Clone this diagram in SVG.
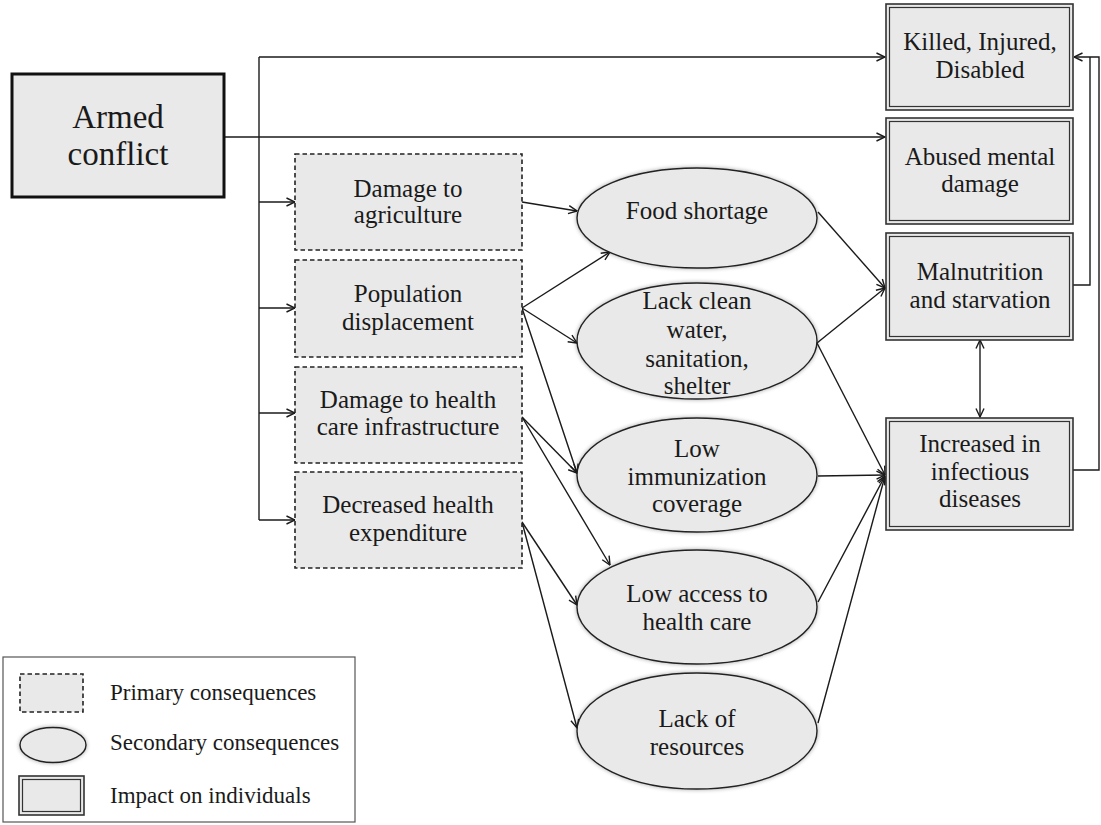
<svg xmlns="http://www.w3.org/2000/svg" width="1101" height="825" viewBox="0 0 1101 825" font-family="'Liberation Serif', serif">
<style>
text{font-family:'Liberation Serif','Times New Roman',serif;fill:#1a1a1a;text-anchor:middle}
.t{font-size:25px}
.big{font-size:33px}
.lg{font-size:23px;text-anchor:start}
.prim{fill:#e9e9e9;stroke:#222;stroke-width:1.6;stroke-dasharray:4.5 3}
.sec{fill:#e9e9e9;stroke:#222;stroke-width:1.4}
.imp-o{fill:#e9e9e9;stroke:#333;stroke-width:1.6}
.imp-i{fill:none;stroke:#333;stroke-width:1.2}
.con{fill:none;stroke:#1a1a1a;stroke-width:1.4}
</style>
<defs>
<marker id="arr" viewBox="0 0 10 10" refX="9.5" refY="5" markerWidth="10" markerHeight="10" markerUnits="userSpaceOnUse" orient="auto-start-reverse">
<path d="M1,1 L9.5,5 L1,9" fill="none" stroke="#1a1a1a" stroke-width="1.4"/>
</marker>
<filter id="glow" x="-10%" y="-15%" width="120%" height="130%">
<feGaussianBlur in="SourceAlpha" stdDeviation="2.2"/>
<feComponentTransfer><feFuncA type="linear" slope="0.35"/></feComponentTransfer>
<feMerge><feMergeNode/><feMergeNode in="SourceGraphic"/></feMerge>
</filter>
</defs>

<g id="connectors" class="con">
<path d="M224,137 H885" marker-end="url(#arr)"/>
<path d="M259,57 V520"/>
<path d="M259,57 H885" marker-end="url(#arr)"/>
<path d="M259,202 H295" marker-end="url(#arr)"/>
<path d="M259,308 H295" marker-end="url(#arr)"/>
<path d="M259,413 H295" marker-end="url(#arr)"/>
<path d="M259,520 H295" marker-end="url(#arr)"/>
<path d="M522,202 L577,211" marker-end="url(#arr)"/>
<path d="M522,308 L610,252" marker-end="url(#arr)"/>
<path d="M522,308 L577,343" marker-end="url(#arr)"/>
<path d="M522,308 L577,473" marker-end="url(#arr)"/>
<path d="M522,417 L577,473" marker-end="url(#arr)"/>
<path d="M522,417 L610,565" marker-end="url(#arr)"/>
<path d="M522,522 L577,605" marker-end="url(#arr)"/>
<path d="M522,522 L577,728" marker-end="url(#arr)"/>
<path d="M818,212 L885,288" marker-end="url(#arr)"/>
<path d="M817,343 L885,288" marker-end="url(#arr)"/>
<path d="M817,343 L885,475" marker-end="url(#arr)"/>
<path d="M818,476 L885,475" marker-end="url(#arr)"/>
<path d="M818,602 L885,476" marker-end="url(#arr)"/>
<path d="M818,723 L885,476" marker-end="url(#arr)"/>
<path d="M980,340 V417" marker-start="url(#arr)" marker-end="url(#arr)"/>
<path d="M1073,285 H1090 V57"/>
<path d="M1073,470 H1099 V57 H1074" marker-end="url(#arr)"/>
</g>

<g id="armed-conflict">
<rect x="12" y="74" width="212" height="123" fill="#e9e9e9" stroke="#111" stroke-width="3"/>
<text class="big" x="118" y="128">Armed</text>
<text class="big" x="118" y="165">conflict</text>
</g>

<g id="damage-agriculture">
<rect class="prim" x="295" y="154" width="227" height="96"/>
<text class="t" x="408" y="197">Damage to</text>
<text class="t" x="408" y="223">agriculture</text>
</g>
<g id="population-displacement">
<rect class="prim" x="295" y="260" width="227" height="97"/>
<text class="t" x="408" y="302">Population</text>
<text class="t" x="408" y="330">displacement</text>
</g>
<g id="damage-health">
<rect class="prim" x="295" y="367" width="227" height="96"/>
<text class="t" x="408" y="408">Damage to health</text>
<text class="t" x="408" y="435">care infrastructure</text>
</g>
<g id="decreased-expenditure">
<rect class="prim" x="295" y="472" width="227" height="96"/>
<text class="t" x="408" y="513">Decreased health</text>
<text class="t" x="408" y="541">expenditure</text>
</g>

<g id="food-shortage">
<ellipse class="sec" filter="url(#glow)" cx="697" cy="218" rx="120" ry="50"/>
<text class="t" x="697" y="219">Food shortage</text>
</g>
<g id="lack-clean-water">
<ellipse class="sec" filter="url(#glow)" cx="697" cy="341" rx="120" ry="58"/>
<text class="t" x="697" y="309">Lack clean</text>
<text class="t" x="697" y="338">water,</text>
<text class="t" x="697" y="367">sanitation,</text>
<text class="t" x="697" y="394">shelter</text>
</g>
<g id="low-immunization">
<ellipse class="sec" filter="url(#glow)" cx="697" cy="475" rx="120" ry="57"/>
<text class="t" x="697" y="457">Low</text>
<text class="t" x="697" y="485">immunization</text>
<text class="t" x="697" y="512">coverage</text>
</g>
<g id="low-access">
<ellipse class="sec" filter="url(#glow)" cx="697" cy="607" rx="120" ry="57"/>
<text class="t" x="697" y="602">Low access to</text>
<text class="t" x="697" y="630">health care</text>
</g>
<g id="lack-resources">
<ellipse class="sec" filter="url(#glow)" cx="697" cy="731" rx="120" ry="58"/>
<text class="t" x="697" y="727">Lack of</text>
<text class="t" x="697" y="755">resources</text>
</g>

<g id="killed">
<rect class="imp-o" x="886" y="4" width="187" height="106"/>
<rect class="imp-i" x="889.5" y="7.5" width="180" height="99"/>
<text class="t" x="980" y="50">Killed, Injured,</text>
<text class="t" x="980" y="78">Disabled</text>
</g>
<g id="abused">
<rect class="imp-o" x="886" y="118" width="187" height="106"/>
<rect class="imp-i" x="889.5" y="121.5" width="180" height="99"/>
<text class="t" x="980" y="165">Abused mental</text>
<text class="t" x="980" y="192">damage</text>
</g>
<g id="malnutrition">
<rect class="imp-o" x="886" y="233" width="187" height="107"/>
<rect class="imp-i" x="889.5" y="236.5" width="180" height="100"/>
<text class="t" x="980" y="280">Malnutrition</text>
<text class="t" x="980" y="308">and starvation</text>
</g>
<g id="infectious">
<rect class="imp-o" x="886" y="418" width="187" height="112"/>
<rect class="imp-i" x="889.5" y="421.5" width="180" height="105"/>
<text class="t" x="980" y="452">Increased in</text>
<text class="t" x="980" y="480">infectious</text>
<text class="t" x="980" y="507">diseases</text>
</g>

<g id="legend">
<rect x="3" y="657" width="352" height="165" fill="#fff" stroke="#555" stroke-width="1.2"/>
<rect class="prim" x="20" y="674" width="63" height="38"/>
<text class="lg" x="110" y="700">Primary consequences</text>
<ellipse class="sec" filter="url(#glow)" cx="53" cy="745" rx="33" ry="17.5"/>
<text class="lg" x="110" y="750">Secondary consequences</text>
<rect class="imp-o" x="19" y="776" width="65" height="39"/>
<rect class="imp-i" x="22.5" y="779.5" width="58" height="32"/>
<text class="lg" x="110" y="803">Impact on individuals</text>
</g>
</svg>
